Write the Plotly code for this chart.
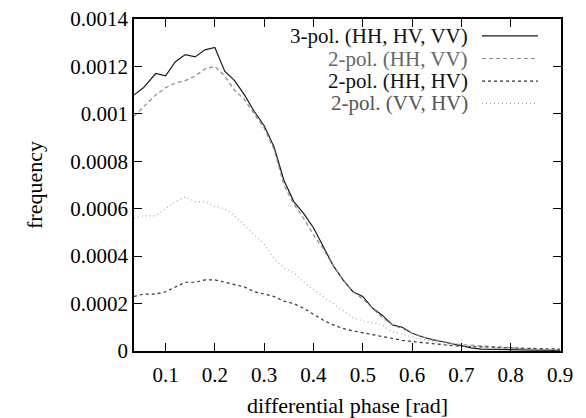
import plotly.graph_objects as go

phase = [0.036, 0.055, 0.08, 0.10, 0.12, 0.14, 0.16, 0.18, 0.20, 0.22, 0.24, 0.26, 0.28, 0.30,
         0.32, 0.34, 0.36, 0.38, 0.40, 0.42, 0.44, 0.46, 0.48, 0.50, 0.52, 0.54, 0.56, 0.58,
         0.60, 0.62, 0.64, 0.66, 0.68, 0.70, 0.72, 0.74, 0.76, 0.78, 0.80, 0.82, 0.84, 0.86,
         0.88, 0.90]

pol3_hh_hv_vv = [0.00108, 0.00111, 0.00117, 0.00116, 0.00122, 0.00125, 0.00124, 0.00127, 0.00128,
                 0.00118, 0.00114, 0.00108, 0.00101, 0.00095, 0.00086, 0.00072, 0.00063, 0.00058,
                 0.00052, 0.00044, 0.00036, 0.00030, 0.00025, 0.00023, 0.00018, 0.00015, 0.00011,
                 0.00010, 0.000075, 0.00006, 0.000048, 0.00004, 0.00003, 0.00002, 0.000013,
                 0.000008, 0.000007, 0.000006, 0.000005, 0.000005, 0.000004, 0.000003, 0.000002,
                 0.000002]

pol2_hh_vv = [0.00099, 0.00103, 0.00108, 0.00111, 0.00113, 0.00114, 0.00116, 0.00119, 0.00120,
              0.00116, 0.00110, 0.00106, 0.00100, 0.00094, 0.00085, 0.00070, 0.00062, 0.00056,
              0.00049, 0.00043, 0.00036, 0.00030, 0.00025, 0.00022, 0.00018, 0.00014, 0.00011,
              0.000095, 0.000075, 0.00006, 0.00005, 0.00004, 0.000032, 0.000027, 0.000024,
              0.000021, 0.000018, 0.000015, 0.000012, 0.00001, 0.000008, 0.000006, 0.000005,
              0.000004]

pol2_hh_hv = [0.00023, 0.00024, 0.00024, 0.00025, 0.00027, 0.00029, 0.00029, 0.00030, 0.00030,
              0.00029, 0.00028, 0.00027, 0.00025, 0.00024, 0.00023, 0.00021, 0.00020, 0.00018,
              0.000155, 0.00013, 0.00011, 0.000095, 0.000085, 0.000077, 0.00007, 0.00006,
              0.000052, 0.000045, 0.00004, 0.000035, 0.00003, 0.000026, 0.000023, 0.00002,
              0.000018, 0.000016, 0.000015, 0.000014, 0.000013, 0.000012, 0.000011, 0.00001,
              0.000009, 0.000008]

pol2_vv_hv = [0.00056, 0.00057, 0.00057, 0.00060, 0.00063, 0.00065, 0.00063, 0.00063, 0.00061,
              0.00060, 0.00057, 0.00053, 0.00049, 0.00045, 0.00039, 0.00035, 0.00033, 0.00029,
              0.00026, 0.00023, 0.00020, 0.00017, 0.00014, 0.000127, 0.00012, 0.00011, 0.00008,
              0.00007, 0.000058, 0.000048, 0.000038, 0.00003, 0.000025, 0.00002, 0.000017,
              0.000015, 0.000013, 0.000012, 0.000011, 0.00001, 0.000009, 0.000008, 0.000007,
              0.000006]

series_names = ["3-pol. (HH, HV, VV)", "2-pol. (HH, VV)", "2-pol. (HH, HV)", "2-pol. (VV, HV)"]
x_ticks = [0.1, 0.2, 0.3, 0.4, 0.5, 0.6, 0.7, 0.8, 0.9]
y_ticks = [0, 0.0002, 0.0004, 0.0006, 0.0008, 0.001, 0.0012, 0.0014]
y_tick_text = ["0", "0.0002", "0.0004", "0.0006", "0.0008", "0.001", "0.0012", "0.0014"]

styles = [
    dict(color="#1a1a1a", width=1.2, dash="solid"),
    dict(color="#8a8a8a", width=1.2, dash="4px,3px"),
    dict(color="#333333", width=1.2, dash="3px,3px"),
    dict(color="#a8a8a8", width=1.2, dash="1px,3px"),
]
text_colors = ["#111111", "#666666", "#111111", "#555555"]
series = [pol3_hh_hv_vv, pol2_hh_vv, pol2_hh_hv, pol2_vv_hv]

FONT = "Liberation Serif, Times New Roman, serif"

fig = go.Figure()
for name, ys, st in zip(series_names, series, styles):
    fig.add_trace(go.Scatter(x=phase, y=ys, mode="lines", name=name, line=st,
                             showlegend=False))

# custom legend (text on the left, line sample on the right), like gnuplot
row_y = [0.949, 0.881, 0.813, 0.746]
for name, st, tc, ry in zip(series_names, styles, text_colors, row_y):
    fig.add_annotation(xref="paper", yref="paper", x=0.787, y=ry, text=name,
                       showarrow=False, xanchor="right", yanchor="middle",
                       font=dict(family=FONT, size=21, color=tc))
    fig.add_shape(type="line", xref="paper", yref="paper", x0=0.815, x1=0.946,
                  y0=ry, y1=ry, line=st)

axis_common = dict(showline=True, linecolor="black", linewidth=1.5, mirror="ticks",
                   ticks="inside", ticklen=8, tickwidth=1.2, tickcolor="black",
                   showgrid=False, zeroline=False, automargin=False,
                   tickfont=dict(family=FONT, size=21, color="black"))

fig.update_xaxes(range=[0.036, 0.902], tickvals=x_ticks, ticklabelstandoff=4,
                 title=dict(text="differential phase [rad]",
                            font=dict(family=FONT, size=22, color="black"), standoff=14),
                 **axis_common)
fig.update_yaxes(range=[0, 0.0014], tickvals=y_ticks, ticktext=y_tick_text,
                 title=dict(text="frequency",
                            font=dict(family=FONT, size=22, color="black"), standoff=22),
                 **axis_common)

fig.update_layout(width=586, height=418, plot_bgcolor="white", paper_bgcolor="white",
                  margin=dict(l=134, r=25, t=19, b=67), showlegend=False)

# remove the default 8px page margin so the 586x418 figure fills the window exactly
fig.write_html("out.html", config={"displayModeBar": False},
               post_script="document.body.style.margin='0';document.body.style.overflow='hidden';")
